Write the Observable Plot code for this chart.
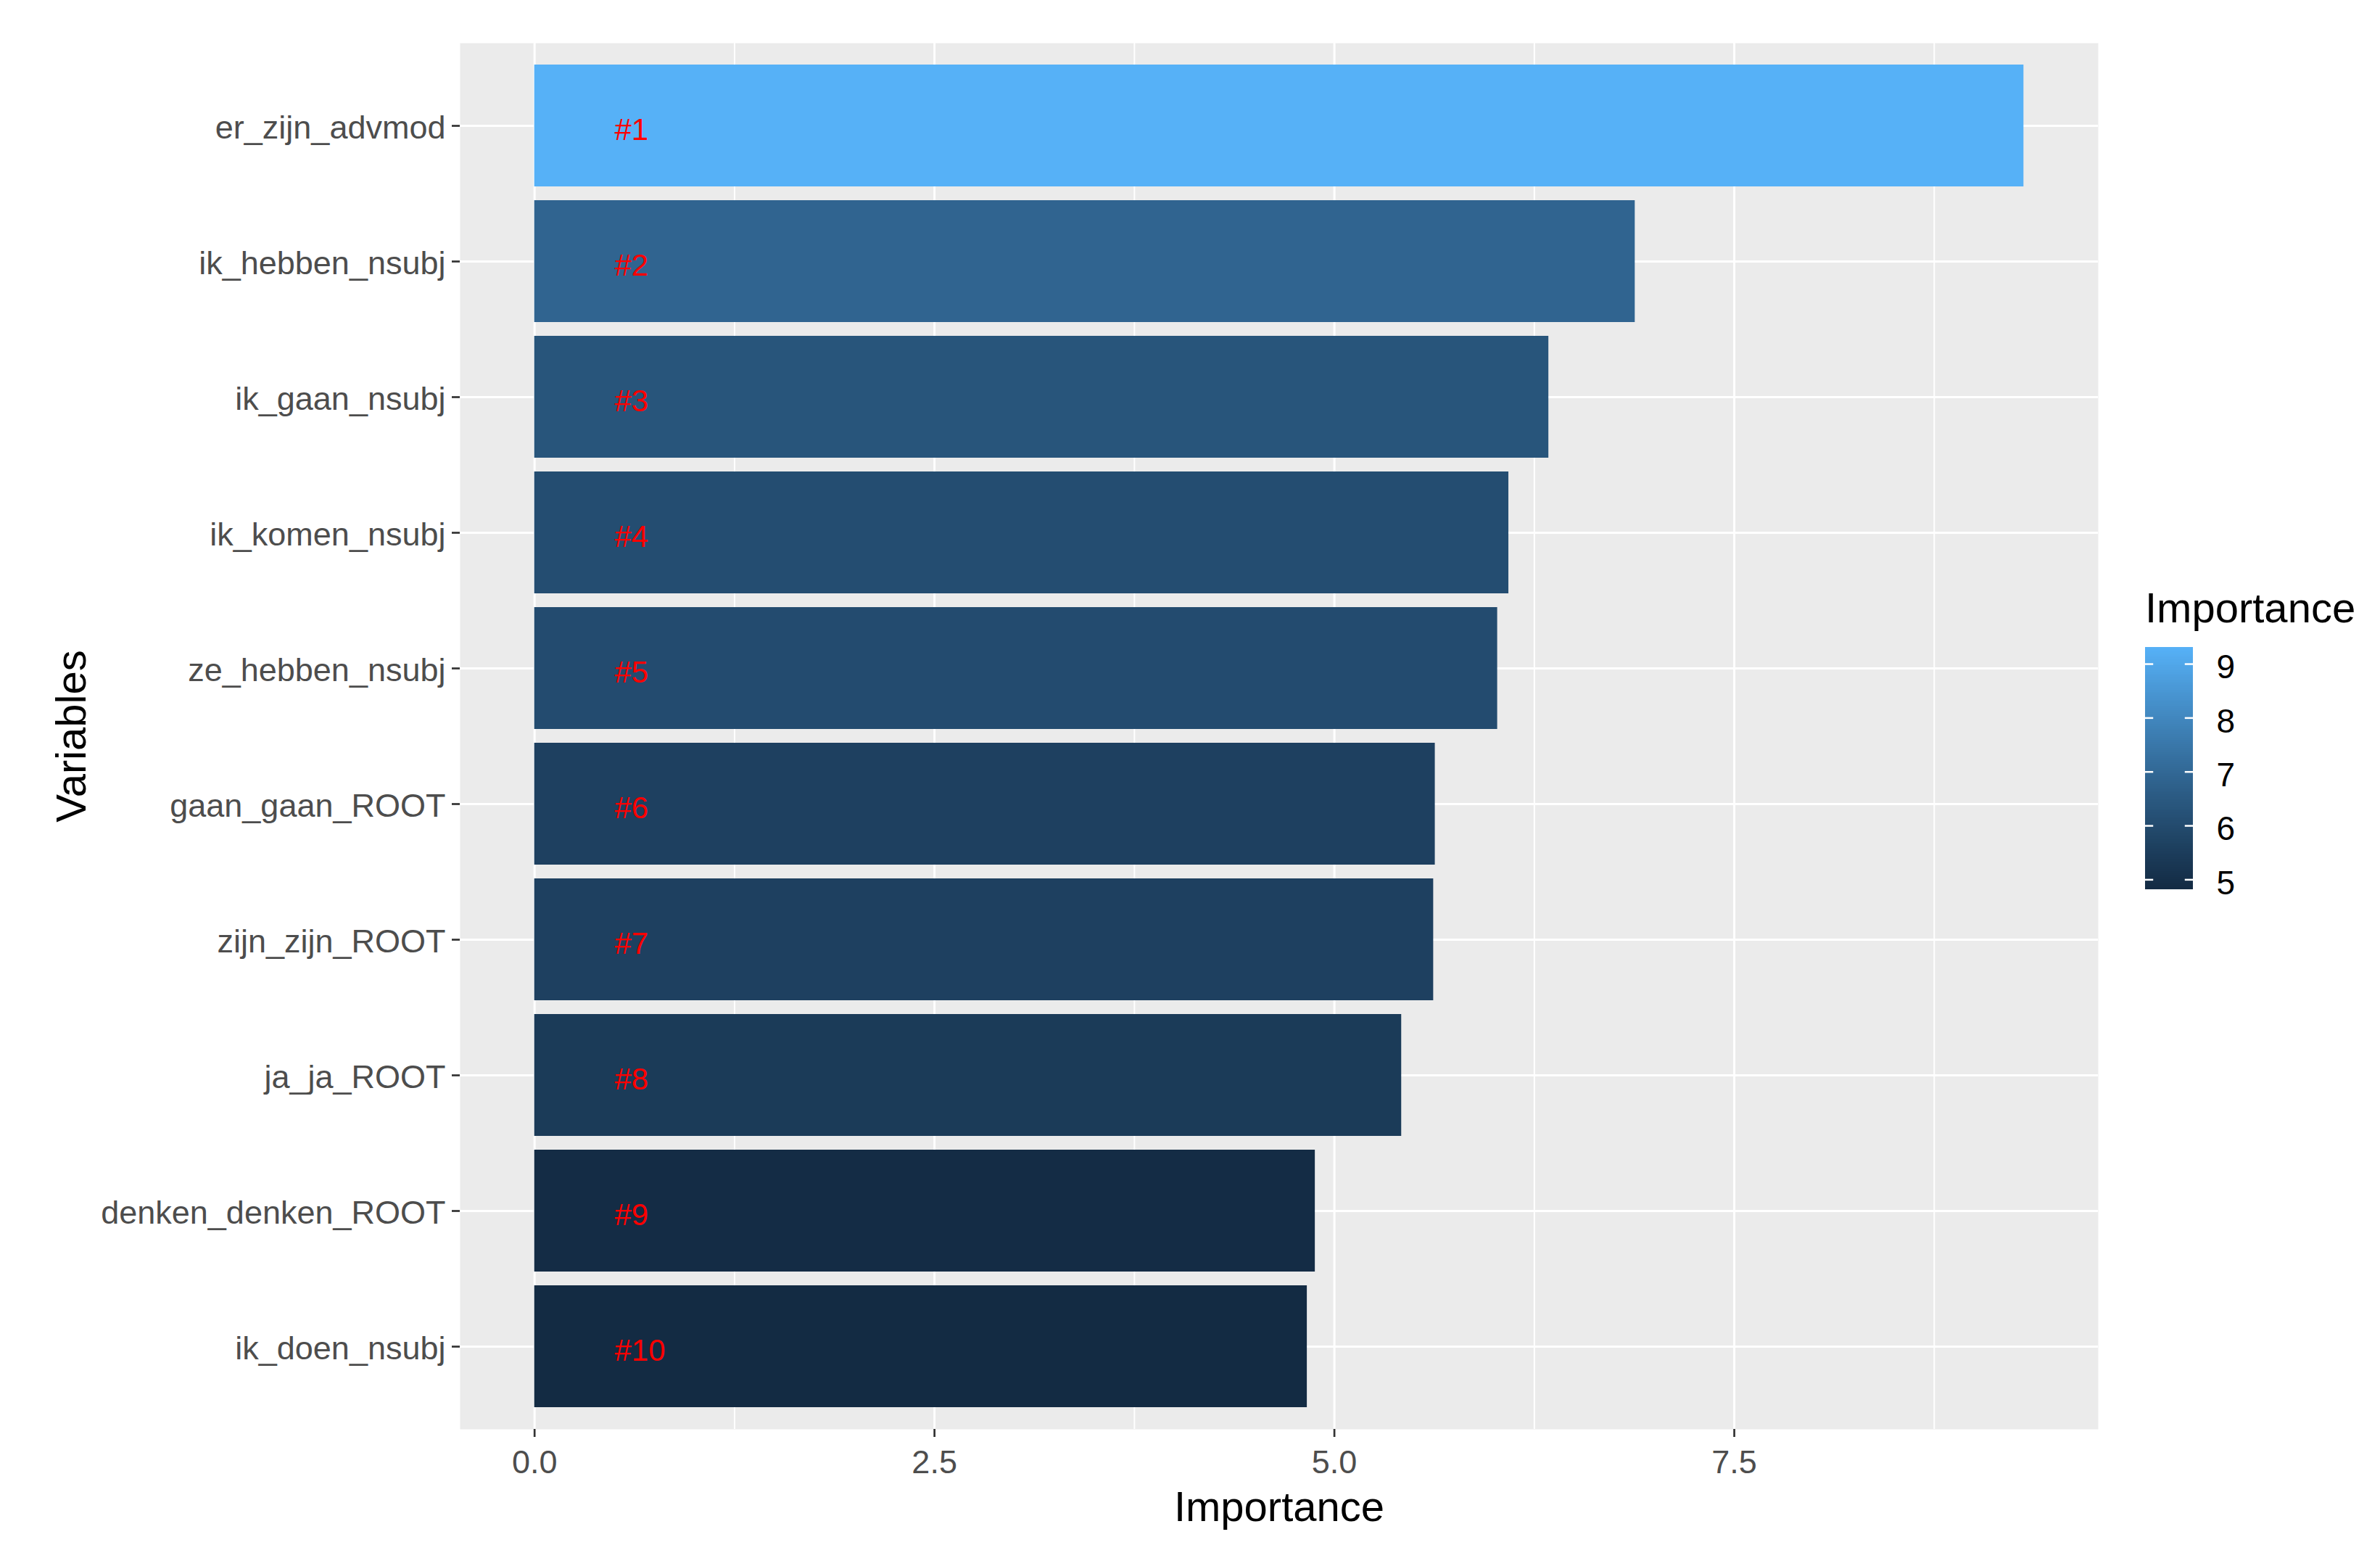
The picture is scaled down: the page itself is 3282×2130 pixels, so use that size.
<!DOCTYPE html>
<html>
<head>
<meta charset="utf-8">
<script src="https://cdn.jsdelivr.net/npm/d3@7"></script>
<script src="https://cdn.jsdelivr.net/npm/@observablehq/plot@0.6"></script>
<style>
  html, body { margin: 0; padding: 0; background: #ffffff; }
  #wrap { position: relative; width: 3282px; height: 2130px; overflow: hidden; font-family: "Liberation Sans", Arial, sans-serif; }
  #main { position: absolute; left: 0; top: 0; }
  #legend { position: absolute; left: 2958px; top: 872px; }
  #legendTitle { position: absolute; left: 2958px; top: 809px; font-size: 58px; line-height: 1; color: #000; white-space: nowrap; }
</style>
</head>
<body>
<div id="wrap">
  <div id="main"></div>
  <div id="legendTitle">Importance</div>
  <div id="legend"></div>
</div>
<script>
// ---- data ----
const names = ["er_zijn_advmod", "ik_hebben_nsubj", "ik_gaan_nsubj", "ik_komen_nsubj", "ze_hebben_nsubj",
               "gaan_gaan_ROOT", "zijn_zijn_ROOT", "ja_ja_ROOT", "denken_denken_ROOT", "ik_doen_nsubj"];
const values = [9.31, 6.88, 6.34, 6.09, 6.02, 5.63, 5.62, 5.42, 4.88, 4.83];
const ranks = ["#1", "#2", "#3", "#4", "#5", "#6", "#7", "#8", "#9", "#10"];
const xTicks = [0, 2.5, 5, 7.5];
const xMinorTicks = [1.25, 3.75, 6.25, 8.75];
const legendTicks = [5, 6, 7, 8, 9];
const labelX = 0.5;
const xTitle = "Importance";
const yTitle = "Variables";

const FONT = '"Liberation Sans", Arial, sans-serif';
const data = names.map((name, i) => ({name, value: values[i], rank: ranks[i]}));
const vmin = d3.min(values), vmax = d3.max(values);
const pad = 0.05 * vmax;
const colorScale = {type: "linear", domain: [vmin, vmax], range: ["#132B43", "#56B1F7"], interpolate: d3.interpolateLab};

const main = Plot.plot({
  width: 2940, height: 2130,
  marginLeft: 634, marginRight: 47, marginTop: 59, marginBottom: 160,
  style: {fontFamily: FONT, background: "transparent", overflow: "visible"},
  x: {domain: [-pad, vmax + pad]},
  y: {domain: names, paddingInner: 0.1, paddingOuter: 0.15},
  color: colorScale,
  marks: [
    Plot.frame({fill: "#EBEBEB", stroke: "none"}),
    Plot.gridX(xMinorTicks, {stroke: "white", strokeOpacity: 1, strokeWidth: 2}),
    Plot.gridX(xTicks, {stroke: "white", strokeOpacity: 1, strokeWidth: 3}),
    Plot.gridY({stroke: "white", strokeOpacity: 1, strokeWidth: 3}),
    Plot.barX(data, {x: "value", y: "name", fill: "value"}),
    Plot.text(data, {x: () => labelX, y: "name", text: "rank", fill: "#FF0000", textAnchor: "start", fontSize: 42, dy: 6}),
    Plot.axisX(xTicks, {tickSize: 11, tickPadding: 18, fontSize: 45, fill: "#4D4D4D", stroke: "#333333", strokeWidth: 2.7, tickFormat: d3.format(".1f"), label: null}),
    Plot.axisY({tickSize: 11, fill: "none", stroke: "#333333", strokeWidth: 2.7, label: null}),
    Plot.axisY({tickSize: 0, tickPadding: 20, fontSize: 45, fill: "#4D4D4D", dy: 3, label: null}),
    Plot.text([xTitle], {text: d => d, frameAnchor: "bottom", textAnchor: "middle", lineAnchor: "middle", dy: 108, fontSize: 58, fill: "black"}),
    Plot.text([yTitle], {text: d => d, frameAnchor: "left", textAnchor: "middle", lineAnchor: "middle", dx: -535, rotate: -90, fontSize: 58, fill: "black"})
  ]
});
document.getElementById("main").appendChild(main);

// ---- colour bar legend ----
const nSlices = 120;
const step = (vmax - vmin) / nSlices;
const slices = d3.range(nSlices).map(i => ({lo: vmin + i * step, hi: vmin + (i + 1) * step, mid: vmin + (i + 0.5) * step}));

const legend = Plot.plot({
  width: 324, height: 373,
  marginLeft: 0, marginRight: 258, marginTop: 20, marginBottom: 20,
  style: {fontFamily: FONT, background: "transparent", overflow: "visible"},
  x: {domain: [0, 1], axis: null},
  y: {domain: [vmin, vmax], axis: null},
  color: colorScale,
  marks: [
    Plot.rect(slices, {x1: () => 0, x2: () => 1, y1: d => d.lo, y2: d => d.hi, fill: d => d.mid, shapeRendering: "crispEdges", insetTop: -0.5, insetBottom: -0.5}),
    Plot.ruleY(legendTicks, {y: d => d, x1: () => 0, x2: () => 0.17, stroke: "white", strokeWidth: 2.5}),
    Plot.ruleY(legendTicks, {y: d => d, x1: () => 0.83, x2: () => 1, stroke: "white", strokeWidth: 2.5}),
    Plot.text(legendTicks, {x: () => 1, y: d => d, text: d => String(d), dx: 32, dy: 5, textAnchor: "start", fontSize: 46, fill: "black"})
  ]
});
document.getElementById("legend").appendChild(legend);
</script>
</body>
</html>
